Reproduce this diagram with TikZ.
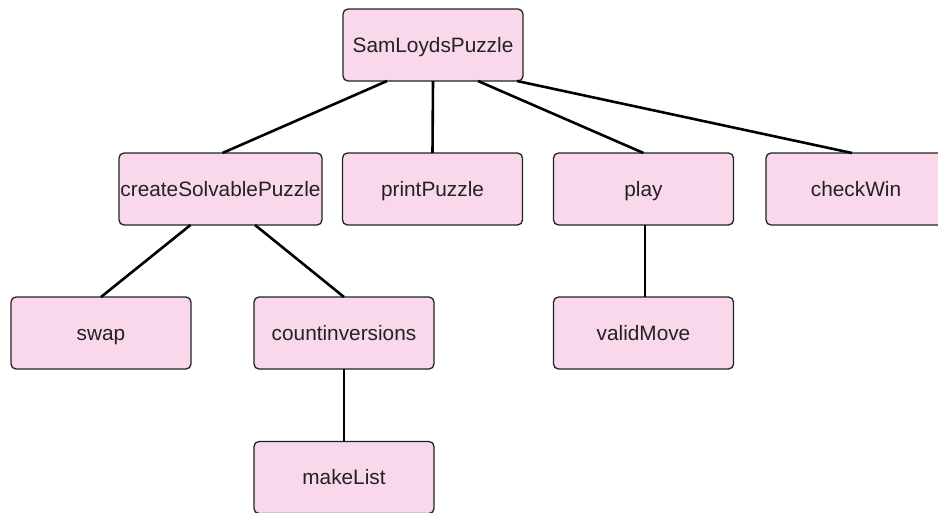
\documentclass[tikz,border=0pt]{standalone}
\usepackage{fontspec}
\setmainfont{Liberation Sans}
\usetikzlibrary{calc}
\definecolor{boxpink}{RGB}{249,216,235}
\definecolor{boxline}{RGB}{34,34,34}
\tikzset{
  fnbox/.style={draw=boxline, fill=boxpink, line width=1.3pt, rounded corners=5pt,
    minimum width=180pt, minimum height=72pt, inner sep=0pt, outer sep=0pt,
    text height=15pt, text depth=1pt,
    text=boxline, font=\fontsize{20.8}{24}\selectfont},
  link/.style={line width=2.6pt, draw=black}
}
\begin{document}
\begin{tikzpicture}[x=1pt,y=-1pt]
\useasboundingbox (0,0) rectangle (938,512);
\node[fnbox] (root) at (433,45) {SamLoydsPuzzle};
\node[fnbox, minimum width=203pt] (csp) at (220.5,189) {createSolvablePuzzle};
\node[fnbox] (pp) at (432.5,189) {printPuzzle};
\node[fnbox] (play) at (643.5,189) {play};
\node[fnbox] (cw) at (856,189) {checkWin};
\node[fnbox] (swap) at (101,333) {swap};
\node[fnbox] (ci) at (344,333) {countinversions};
\node[fnbox] (vm) at (643.5,333) {validMove};
\node[fnbox] (ml) at (344,477.5) {makeList};
\draw[link] ($(root.south)+(-46,0)$) -- ($(csp.north)+(2,0)$);
\draw[link] (root.south) -- (pp.north);
\draw[link] ($(root.south)+(45,0)$) -- (play.north);
\draw[link] ($(root.south)+(84,0)$) -- ($(cw.north)+(-4,0)$);
\draw[link] ($(csp.south)+(-30,0)$) -- (swap.north);
\draw[link] ($(csp.south)+(34.5,0)$) -- (ci.north);
\draw[link] (ci.south) -- (ml.north);
\draw[link] ($(play.south)+(1.5,0)$) -- ($(vm.north)+(1.5,0)$);
\end{tikzpicture}
\end{document}
